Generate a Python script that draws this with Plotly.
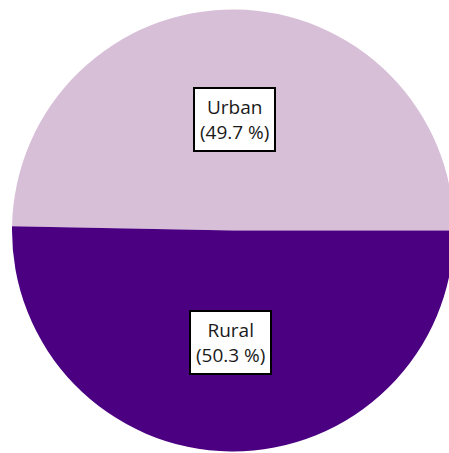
import plotly.graph_objects as go

labels = ["Urban", "Rural"]
values = [49.7, 50.3]
colors = ["#D8BFD8", "#4B0082"]

W, H = 460, 453

# pie centre / radius in page pixels
cx, cy, r = 233, 230.5, 221

fig = go.Figure(go.Pie(
    labels=labels,
    values=values,
    sort=False,
    direction="clockwise",
    rotation=271.1,
    marker=dict(colors=colors, line=dict(width=0)),
    textinfo="none",
    hoverinfo="label+percent",
    domain=dict(x=[(cx - r) / W, (cx + r) / W],
                y=[(H - (cy + r)) / H, (H - (cy - r)) / H]),
    showlegend=False,
))

# label boxes (pixel centres in the picture)
label_pos = [(234.5, 119), (230.5, 342.5)]
for lab, val, (px, py) in zip(labels, values, label_pos):
    fig.add_annotation(
        x=px / W, y=1 - py / H, xref="paper", yref="paper",
        xanchor="center", yanchor="middle",
        text=f"{lab}<br>({val:.1f} %)",
        showarrow=False,
        font=dict(family="Open Sans", size=19, color="#1a1a1a"),
        bgcolor="white",
        bordercolor="black",
        borderwidth=2,
        borderpad=5,
        align="center",
    )

fig.update_layout(
    width=W, height=H,
    margin=dict(l=0, r=0, t=0, b=0),
    paper_bgcolor="white",
    plot_bgcolor="white",
)

fig.write_html(
    "out.html",
    config={"displayModeBar": False},
    post_script="document.body.style.margin='0';"
                "document.body.style.overflow='hidden';",
)
